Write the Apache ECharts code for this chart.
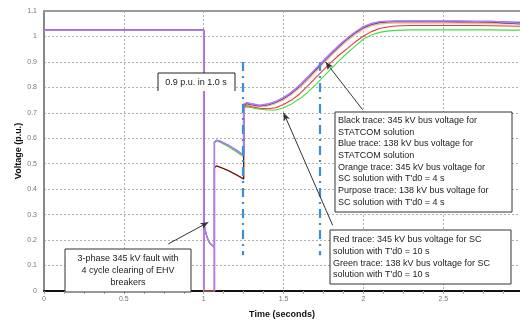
<!DOCTYPE html>
<html><head><meta charset="utf-8">
<script src="https://cdn.jsdelivr.net/npm/echarts@6/dist/echarts.min.js"></script>
<style>html,body{margin:0;padding:0;background:#fff}#c{width:520px;height:324px}</style>
</head><body><div id="c"></div>
<script>
// ---- data ----
const xTicks = [0, 0.5, 1, 1.5, 2, 2.5];
const yTicks = [0, 0.1, 0.2, 0.3, 0.4, 0.5, 0.6, 0.7, 0.8, 0.9, 1, 1.1];
const preFault = [[0, 1.025], [1.0, 1.025]];
const fault345 = [[1.0, 0], [1.067, 0], [1.067, 0.485], [1.08, 0.491], [1.1, 0.487], [1.15, 0.474], [1.2, 0.458], [1.25, 0.440]];
const fault138 = [[1.0, 0.27], [1.01, 0.236], [1.02, 0.213], [1.03, 0.197], [1.04, 0.186], [1.05, 0.179], [1.067, 0.172]];
const faultPurple = [[1.0, 0], [1.0, 0.27], [1.01, 0.236], [1.02, 0.213], [1.03, 0.197], [1.04, 0.186], [1.05, 0.179], [1.067, 0.172], [1.067, 0]];
const post138 = [[1.067, 0.585], [1.08, 0.592], [1.1, 0.589], [1.15, 0.574], [1.2, 0.555], [1.25, 0.533]];
const post138Green = [[1.067, 0.582], [1.08, 0.589], [1.1, 0.585], [1.15, 0.569], [1.2, 0.549], [1.25, 0.527]];
const tRec = [1.25, 1.27, 1.3, 1.35, 1.4, 1.45, 1.5, 1.55, 1.6, 1.65, 1.7, 1.75, 1.8, 1.85, 1.9, 1.95, 2.0, 2.05, 2.1, 2.15, 2.2, 2.3, 2.4, 2.5, 2.6, 2.7, 2.8, 2.9, 3.0];
const recBlack  = [0.730,0.736,0.732,0.727,0.731,0.741,0.756,0.777,0.803,0.834,0.867,0.900,0.932,0.962,0.990,1.014,1.034,1.047,1.054,1.057,1.058,1.058,1.058,1.058,1.057,1.057,1.056,1.052,1.049];
const recBlue   = [0.732,0.739,0.734,0.729,0.733,0.743,0.759,0.780,0.807,0.838,0.871,0.904,0.936,0.966,0.993,1.017,1.037,1.050,1.057,1.059,1.060,1.060,1.060,1.060,1.060,1.059,1.059,1.057,1.055];
const recPurple = [0.734,0.740,0.735,0.730,0.734,0.744,0.760,0.781,0.808,0.839,0.872,0.905,0.937,0.967,0.994,1.018,1.038,1.051,1.058,1.060,1.061,1.061,1.061,1.061,1.061,1.060,1.060,1.055,1.051];
const recOrange = [0.728,0.733,0.729,0.724,0.728,0.737,0.752,0.773,0.799,0.829,0.862,0.895,0.927,0.957,0.985,1.009,1.029,1.042,1.049,1.052,1.053,1.053,1.053,1.053,1.053,1.052,1.051,1.050,1.049];
const recRed    = [0.726,0.728,0.724,0.718,0.716,0.720,0.733,0.750,0.774,0.805,0.837,0.869,0.900,0.928,0.953,0.979,1.002,1.019,1.031,1.037,1.041,1.043,1.043,1.043,1.043,1.043,1.042,1.041,1.040];
const recGreen  = [0.722,0.723,0.720,0.714,0.711,0.711,0.720,0.735,0.755,0.780,0.810,0.842,0.875,0.906,0.936,0.963,0.990,1.006,1.016,1.021,1.024,1.026,1.026,1.026,1.026,1.026,1.026,1.025,1.025];
const markerTimes = [1.243, 1.725];
const markerRange = [0.14, 0.9];
const arrows = [
  [[0.778, 0.185], [1.029, 0.27]],
  [[1.995, 0.712], [1.763, 0.9]],
  [[1.807, 0.258], [1.5, 0.70]]
];
const notes1 = ["Black trace: 345 kV bus voltage for", "STATCOM solution", "Blue trace: 138 kV bus voltage for", "STATCOM solution", "Orange trace: 345 kV bus voltage for", "SC solution with T'd0 = 4 s", "Purpose trace: 138 kV bus voltage for", "SC solution with T'd0 = 4 s"];
const notes2 = ["Red trace: 345 kV bus voltage for SC", "solution with T'd0 = 10 s", "Green trace: 138 kV bus voltage for SC", "solution with T'd0 = 10 s"];
const notes3 = ["3-phase 345 kV fault with", "4 cycle clearing of EHV", "breakers"];
const rampNote = "0.9 p.u. in 1.0 s";
const xMax = 2.98;

// ---- build ----
const rec = vals => tRec.map((t, i) => [t, vals[i]]);
const s345 = r => preFault.concat(fault345, rec(r));
const font = '"Liberation Sans", Arial, sans-serif';

function lineSeries(name, color, data, w, extra) {
  return Object.assign({ name, type: 'line', data, showSymbol: false, symbol: 'none', clip: true,
    lineStyle: { color, width: w || 1.1 }, itemStyle: { color }, animation: false }, extra || {});
}

const series = [
  lineSeries('Green', '#3ee23e', preFault.concat(fault138, post138Green, rec(recGreen))),
  lineSeries('Orange', '#f6b596', s345(recOrange), 1.6),
  lineSeries('Red', '#f03434', s345(recRed)),
  lineSeries('Black', '#1c1c1c', s345(recBlack), 0.9),
  lineSeries('Blue', '#1a2ee6', preFault.concat(fault138, post138, rec(recBlue))),
  lineSeries('Purple', '#b47cf2', preFault.concat(faultPurple, post138, rec(recPurple)), 1.6),
  {
    type: 'line', data: [], animation: false,
    markLine: {
      silent: true, animation: false, symbol: ['none', 'none'], label: { show: false },
      lineStyle: { color: '#3d8ed8', width: 2.2, type: [9, 5, 2, 5] },
      data: markerTimes.map(t => [{ coord: [t, markerRange[1]] }, { coord: [t, markerRange[0]] }])
    }
  },
  {
    type: 'line', data: [], animation: false,
    markLine: {
      silent: true, animation: false, symbol: ['none', 'arrow'], symbolSize: [5, 8], label: { show: false },
      lineStyle: { color: '#333', width: 1, type: 'solid' },
      data: arrows.map(a => [{ coord: a[0] }, { coord: a[1] }])
    }
  }
];

function textLines(lines, x, y0, lh, align) {
  return lines.map((t, i) => ({ type: 'text', z: 101, style: { text: t, x, y: y0 + i * lh, font: '9px ' + font, fill: '#222', textAlign: align || 'left', textVerticalAlign: 'middle' } }));
}

const graphic = [
  { type: 'rect', z: 100, shape: { x: 335, y: 112, width: 177, height: 100 }, style: { fill: '#fff', stroke: '#333', lineWidth: 1 } },
  ...textLines(notes1, 338, 120.5, 11.7),
  { type: 'rect', z: 100, shape: { x: 330, y: 230, width: 181, height: 54 }, style: { fill: '#fff', stroke: '#333', lineWidth: 1 } },
  ...textLines(notes2, 333, 240, 11.6),
  { type: 'rect', z: 100, shape: { x: 65, y: 249, width: 126, height: 43 }, style: { fill: '#fff', stroke: '#333', lineWidth: 1 } },
  ...textLines(notes3, 128, 259, 11.8, 'center'),
  { type: 'rect', z: 100, shape: { x: 158, y: 73, width: 77, height: 18 }, style: { fill: '#fff', stroke: null } },
  { type: 'polyline', z: 101, shape: { points: [[158, 91], [158, 73], [235, 73], [235, 91]] }, style: { stroke: '#222', lineWidth: 1, fill: null } },
  { type: 'text', z: 101, style: { text: rampNote, x: 196, y: 82.5, font: '9px ' + font, fill: '#222', textAlign: 'center', textVerticalAlign: 'middle' } }
];

const option = {
  animation: false,
  grid: { left: 44, right: 0, top: 11, bottom: 27, show: false },
  xAxis: [{
    type: 'value', min: 0, max: xMax, interval: 0.5,
    name: 'Time (seconds)', nameLocation: 'middle', nameGap: 19, nameMoveOverlap: false,
    nameTextStyle: { fontFamily: font, fontWeight: 'bold', fontSize: 9, color: '#111' },
    axisLine: { show: true, onZero: false, lineStyle: { color: '#111', width: 2 } },
    axisTick: { show: true, length: 3, lineStyle: { color: '#999' } },
    minorTick: { show: true, splitNumber: 4, length: 3, lineStyle: { color: '#aaa' } },
    axisLabel: { fontFamily: font, fontSize: 7, color: '#777', margin: 5, showMaxLabel: false,
      formatter: v => xTicks.includes(Math.round(v * 10) / 10) ? String(Math.round(v * 10) / 10) : '' },
    splitLine: { show: true, showMaxLine: false, lineStyle: { color: '#b0b0b0', type: [2, 2], width: 1 } }
  }, {
    type: 'value', min: 0, max: xMax, position: 'top',
    axisLine: { show: true, onZero: false, lineStyle: { color: '#9a9a9a', width: 2 } },
    axisTick: { show: false }, axisLabel: { show: false }, splitLine: { show: false }
  }],
  yAxis: {
    type: 'value', min: 0, max: 1.1, interval: 0.1,
    name: 'Voltage (p.u.)', nameLocation: 'middle', nameGap: 21, nameRotate: 90, nameMoveOverlap: false,
    nameTextStyle: { fontFamily: font, fontWeight: 'bold', fontSize: 9, color: '#111' },
    axisLine: { show: true, lineStyle: { color: '#888', width: 2 } },
    axisTick: { show: false },
    axisLabel: { fontFamily: font, fontSize: 7, color: '#777', margin: 7,
      formatter: v => { const r = Math.round(v * 10) / 10; return yTicks.includes(r) ? String(r) : ''; } },
    splitLine: { show: true, showMaxLine: false, lineStyle: { color: '#b0b0b0', type: [2, 2], width: 1 } }
  },
  series,
  graphic
};
const chart = echarts.init(document.getElementById('c'), null, { renderer: 'canvas' });
chart.setOption(option);
</script></body></html>
